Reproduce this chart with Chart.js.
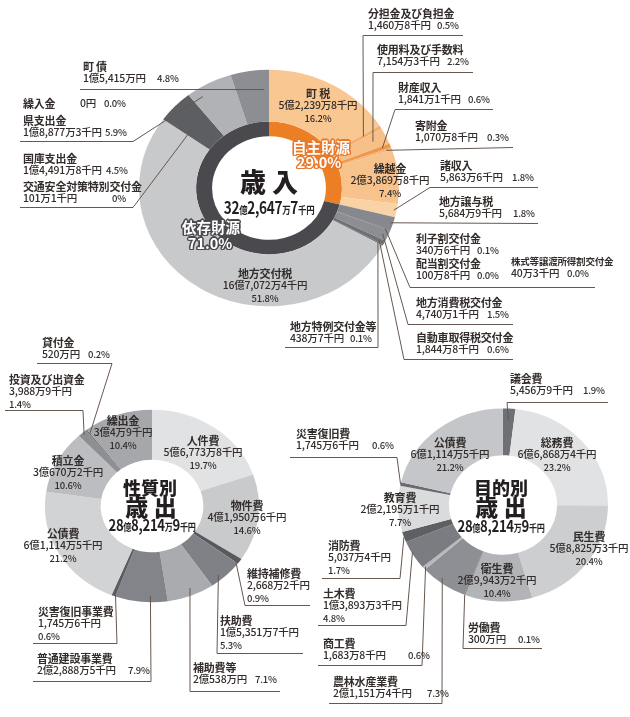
<!DOCTYPE html>
<html lang="ja">
<head>
<meta charset="utf-8">
<title>歳入・歳出</title>
<script src="https://cdn.jsdelivr.net/npm/chart.js@4.4.1/dist/chart.umd.min.js"></script>
<style>
  html, body { margin: 0; padding: 0; background: #fff; }
  #page { position: relative; width: 630px; height: 717px; overflow: hidden;
          font-family: "Noto Sans CJK JP", "Noto Sans", sans-serif; color: #322d2b; }
  #page canvas { position: absolute; left: 0; top: 0; }
  .lb { position: absolute; font-size: 10.5px; line-height: 12.5px; white-space: nowrap; letter-spacing: -0.2px; }
  .lb .ln { position: relative; height: 12.5px; }
  .lb .nm { font-weight: 700; font-size: 11px; }
  .lb .am { font-weight: 500; }
  .lb .pc { position: absolute; top: 0; font-size: 9.5px; font-weight: 500; }
  .lb .ln > .pc3 { font-size: 9.5px; font-weight: 500; }
  .lb.mid { transform: translateX(-50%); text-align: center; }
  .lb.small .nm { font-size: 9.5px; }
  .ct { position: absolute; text-align: center; white-space: nowrap; color: #231f20;
        font-weight: 900; line-height: 1; }
  .ct small { font-size: 0.62em; font-weight: 700; }
  .ol { position: absolute; transform: translate(-50%, -50%); white-space: nowrap; color: #fff;
        font-weight: 700; font-size: 14.5px; line-height: 1; }
</style>
</head>
<body>
<div id="page">
  <canvas id="revChart" width="630" height="717"></canvas>
  <canvas id="natChart" width="630" height="717"></canvas>
  <canvas id="fnChart" width="630" height="717"></canvas>
</div>
<script>
// ---- 歳入 (千円) ----
const revLabels = ['町 税', '分担金及び負担金', '使用料及び手数料', '財産収入', '寄附金', '繰越金', '諸収入',
  '地方譲与税', '利子割交付金', '配当割交付金', '株式等譲渡所得割交付金', '地方消費税交付金', '自動車取得税交付金',
  '地方特例交付金等', '地方交付税', '交通安全対策特別交付金', '国庫支出金', '県支出金', '繰入金', '町 債'];
const revValues = [522398, 14608, 71543, 18411, 10708, 238698, 58636,
  56849, 3406, 1008, 403, 47401, 18448, 4387, 1670724, 1011, 144918, 188773, 0, 154150];
const revPct = ['16.2%', '0.5%', '2.2%', '0.6%', '0.3%', '7.4%', '1.8%',
  '1.8%', '0.1%', '0.0%', '0.0%', '1.5%', '0.6%', '0.1%', '51.8%', '0%', '4.5%', '5.9%', '0.0%', '4.8%'];
const revColors = ['#f8c792', '#f3ad6a', '#f7c089', '#ef9847', '#f6b67a', '#f7c28c', '#f9d2a6',
  '#86888d', '#66676b', '#55565a', '#77787c', '#8c8e92', '#707176', '#5e5f63', '#c8c9cb',
  '#8a8b8f', '#5d5e62', '#b0b2b6', '#999a9e', '#8c8e93'];
const revTotal = 3226477;

// 自主財源 / 依存財源
const srcLabels = ['自主財源', '依存財源'];
const srcValues = [29.0, 71.0];
const srcColors = ['#ec7f26', '#4a494e'];

// ---- 性質別歳出 (千円) ----
const natLabels = ['人件費', '物件費', '維持補修費', '扶助費', '補助費等', '普通建設事業費', '災害復旧事業費',
  '公債費', '積立金', '投資及び出資金', '貸付金', '繰出金'];
const natValues = [567738, 419506, 26682, 153517, 205380, 228885, 17456, 611145, 306702, 39889, 5200, 300049];
const natPct = ['19.7%', '14.6%', '0.9%', '5.3%', '7.1%', '7.9%', '0.6%', '21.2%', '10.6%', '1.4%', '0.2%', '10.4%'];
const natColors = ['#e1e2e3', '#c9cacc', '#58595d', '#808186', '#a9abaf', '#838489', '#5c5d61',
  '#d2d3d5', '#bcbdc0', '#8e8f93', '#66676b', '#a6a7ab'];

// ---- 目的別歳出 (千円) ----
const fnLabels = ['議会費', '総務費', '民生費', '衛生費', '労働費', '農林水産業費', '商工費', '土木費',
  '消防費', '教育費', '災害復旧費', '公債費'];
const fnValues = [54569, 668684, 588253, 299432, 3000, 211514, 16838, 138933, 50374, 221951, 17456, 611145];
const fnPct = ['1.9%', '23.2%', '20.4%', '10.4%', '0.1%', '7.3%', '0.6%', '4.8%', '1.7%', '7.7%', '0.6%', '21.2%'];
const fnColors = ['#6f7075', '#e1e2e3', '#cdced0', '#b3b4b7', '#55565a', '#8e8f94', '#b8b9bc', '#7b7c81',
  '#5e5f63', '#dadbdd', '#6a6b6f', '#c5c6c9'];
const expTotal = 2882149;

const W = 630, H = 717;
const page = document.getElementById('page');

// 千円 -> "1億5,415万8千円"
function yen(v, small) {
  if (v === 0) return '0円';
  const oku = Math.floor(v / 100000), man = Math.floor((v % 100000) / 10), sen = v % 10;
  const u = s => small ? '<small>' + s + '</small>' : s;
  let s = '';
  if (oku) s += oku + u('億');
  if (man) s += man.toLocaleString('en-US') + u('万');
  if (sen) s += sen + u('千円'); else s += u('円');
  return s;
}

// 楕円に見せる（縦方向を少し潰す）
const squash = {
  id: 'squash',
  beforeDatasetsDraw(chart, args, opts) {
    const arc = chart.getDatasetMeta(0).data[0];
    const ctx = chart.ctx;
    ctx.save();
    ctx.translate(arc.x, arc.y);
    ctx.scale(1, opts.sy);
    ctx.translate(-arc.x, -arc.y);
  },
  afterDatasetsDraw(chart) {
    chart.ctx.restore();
  }
};

// 引き出し線
function makeLeaders(specs) {
  return {
    id: 'leaders',
    afterDraw(chart) {
      const ctx = chart.ctx;
      const sy = chart.options.plugins.squash.sy;
      const meta = chart.getDatasetMeta(0);
      ctx.save();
      ctx.strokeStyle = '#66574f';
      ctx.lineWidth = 1;
      specs.filter(s => s.line).forEach(s => {
        const arc = meta.data[s.i];
        const p = arc.getProps(['x', 'y', 'startAngle', 'endAngle', 'innerRadius', 'outerRadius'], true);
        const f = s.line.f ?? 0.5;
        const a = p.startAngle + (p.endAngle - p.startAngle) * f;
        const r = p.innerRadius + (p.outerRadius - p.innerRadius) * s.line.t;
        const ax = p.x + Math.cos(a) * r, ay = p.y + Math.sin(a) * r * sy;
        ctx.beginPath();
        s.line.p.forEach((pt, k) => k ? ctx.lineTo(pt[0], pt[1] + 0.5) : ctx.moveTo(pt[0], pt[1] + 0.5));
        ctx.lineTo(ax, ay);
        ctx.stroke();
      });
      ctx.restore();
    }
  };
}

function ring(id, geo, datasets, specs) {
  return new Chart(document.getElementById(id), {
    type: 'doughnut',
    data: { datasets },
    options: {
      responsive: false,
      animation: false,
      events: [],
      radius: geo.r,
      cutout: geo.cut,
      layout: { padding: { left: geo.cx - geo.r, right: W - geo.cx - geo.r, top: geo.cy - geo.r, bottom: H - geo.cy - geo.r } },
      plugins: { legend: { display: false }, tooltip: { enabled: false }, squash: { sy: geo.sy } }
    },
    plugins: [squash, makeLeaders(specs)]
  });
}

function addLabels(specs, names, values, pcts) {
  specs.forEach(s => {
    const d = document.createElement('div');
    d.className = 'lb' + (s.mid ? ' mid' : '') + (s.small ? ' small' : '');
    d.style.left = s.x + 'px';
    d.style.top = (s.y - 6.25) + 'px';
    const am = yen(values[s.i]);
    let h;
    if (s.inline) {
      h = '<div class="ln"><span class="nm">' + names[s.i] + '</span>' +
        '<span class="pc am" style="left:' + (s.inline - s.x) + 'px;font-size:10.5px">' + am + '</span>' +
        '<span class="pc" style="left:' + (s.px - s.x) + 'px">' + pcts[s.i] + '</span></div>';
    } else {
      h = '<div class="ln nm">' + names[s.i] + '</div>';
      if (s.px) {
        h += '<div class="ln"><span class="am">' + am + '</span><span class="pc" style="left:' + (s.px - s.x) + 'px">' + pcts[s.i] + '</span></div>';
      } else {
        h += '<div class="ln am">' + am + '</div><div class="ln"><span class="pc3">' + pcts[s.i] + '</span></div>';
      }
    }
    d.innerHTML = h;
    page.appendChild(d);
  });
}

// 中央の文字: sx で横方向を詰める
function addText(cls, x, y, html, size, sx, extra) {
  const d = document.createElement('div');
  d.className = cls;
  d.style.left = x + 'px';
  d.style.top = y + 'px';
  if (size) d.style.fontSize = size + 'px';
  if (cls === 'ct') d.style.transform = 'translate(-50%, -50%) scaleX(' + (sx || 1) + ')';
  if (extra) d.style.cssText += extra;
  d.innerHTML = html;
  page.appendChild(d);
}

// ---- ラベル配置 ----
const revSpecs = [
  { i: 0, x: 318, y: 93, mid: 1 },
  { i: 5, x: 390, y: 168, mid: 1 },
  { i: 14, x: 265, y: 273, mid: 1 },
  { i: 1, x: 368, y: 13, px: 437, line: { p: [[463, 35], [363, 35]], t: 0.65 } },
  { i: 2, x: 377, y: 49, px: 447, line: { p: [[473, 72], [373, 72]], t: 0.75 } },
  { i: 3, x: 398, y: 87, px: 468, line: { p: [[493, 109], [395, 109]], t: 0.85 } },
  { i: 4, x: 415, y: 125, px: 487, line: { p: [[513, 147]], t: 0.9 } },
  { i: 6, x: 440, y: 165, px: 512, line: { p: [[538, 187], [430, 187]], t: 0.95 } },
  { i: 7, x: 439, y: 201, px: 513, line: { p: [[538, 223]], t: 0.95 } },
  { i: 8, x: 416, y: 238, px: 477, line: { p: [[595, 287], [410, 287]], t: 0.9 } },
  { i: 9, x: 416, y: 263, px: 477 },
  { i: 10, x: 511, y: 261, px: 567, small: 1 },
  { i: 11, x: 416, y: 302, px: 487, line: { p: [[513, 324], [408, 324]], t: 0.9 } },
  { i: 12, x: 416, y: 337, px: 487, line: { p: [[513, 359], [404, 359]], t: 0.9 } },
  { i: 13, x: 290, y: 326, px: 350, line: { p: [[285, 347], [378, 347]], t: 0.9 } },
  { i: 19, x: 83, y: 66, px: 157, line: { p: [[80, 89]], f: 0.85, t: 0.62 } },
  { i: 18, x: 23, y: 103, inline: 80, px: 104 },
  { i: 17, x: 23, y: 120, px: 105, line: { p: [[20, 141], [133, 141]], f: 0.23, t: 0.83 } },
  { i: 16, x: 23, y: 158, px: 106, line: { p: [[20, 207], [133, 207]], t: 0.5 } },
  { i: 15, x: 23, y: 186, px: 112 }
];

const natSpecs = [
  { i: 0, x: 203, y: 440, mid: 1 },
  { i: 1, x: 247, y: 505, mid: 1 },
  { i: 7, x: 63, y: 533, mid: 1 },
  { i: 8, x: 68, y: 460, mid: 1 },
  { i: 11, x: 123, y: 420, mid: 1 },
  { i: 10, x: 42, y: 342, px: 88, line: { p: [[37, 363], [112, 363]], t: 0.9 } },
  { i: 9, x: 9, y: 379, line: { p: [[5, 410], [83, 410]], t: 0.95 } },
  { i: 2, x: 247, y: 573, line: { p: [[310, 605], [245, 605]], t: 0.9 } },
  { i: 3, x: 220, y: 620, line: { p: [[303, 653], [217, 653]], f: 0.65, t: 0.9 } },
  { i: 4, x: 193, y: 667, px: 255, line: { p: [[280, 691], [190, 691]], f: 0.45, t: 0.85 } },
  { i: 5, x: 37, y: 658, px: 128, line: { p: [[33, 681], [151, 681]], f: 0.33, t: 0.88 } },
  { i: 6, x: 38, y: 611, line: { p: [[33, 643], [117, 643]], t: 0.9 } }
];

const fnSpecs = [
  { i: 11, x: 450, y: 442, mid: 1 },
  { i: 1, x: 557, y: 442, mid: 1 },
  { i: 9, x: 400, y: 497, mid: 1 },
  { i: 2, x: 589, y: 536, mid: 1 },
  { i: 3, x: 497, y: 568, mid: 1 },
  { i: 0, x: 510, y: 378, px: 583, line: { p: [[608, 402], [507, 402]], t: 0.75 } },
  { i: 10, x: 296, y: 433, px: 372, line: { p: [[290, 457], [397, 457]], t: 1 } },
  { i: 8, x: 328, y: 545, line: { p: [[322, 578], [400, 578]], t: 1 } },
  { i: 7, x: 323, y: 593, line: { p: [[318, 625], [406, 625]], f: 0.6, t: 0.98 } },
  { i: 6, x: 323, y: 643, px: 408, line: { p: [[318, 665], [422, 665]], t: 0.95 } },
  { i: 5, x: 333, y: 681, px: 427, line: { p: [[329, 703], [442, 703]], f: 0.6, t: 0.9 } },
  { i: 4, x: 468, y: 627, px: 518, line: { p: [[542, 648], [463, 648]], t: 1 } }
];

// ---- グラフ ----
ring('revChart', { cx: 269, cy: 188, r: 130, cut: '43.8%', sy: 0.91 }, [
  { data: revValues, backgroundColor: revColors, borderWidth: 0, weight: 57 },
  { data: srcValues, backgroundColor: srcColors, borderWidth: 0, weight: 16 }
], revSpecs);

ring('natChart', { cx: 152, cy: 506, r: 107, cut: '48%', sy: 0.9 }, [
  { data: natValues, backgroundColor: natColors, borderWidth: 0 }
], natSpecs);

ring('fnChart', { cx: 503, cy: 505, r: 105, cut: '51.5%', sy: 0.92 }, [
  { data: fnValues, backgroundColor: fnColors, borderWidth: 0 }
], fnSpecs);

addLabels(revSpecs, revLabels, revValues, revPct);
addLabels(natSpecs, natLabels, natValues, natPct);
addLabels(fnSpecs, fnLabels, fnValues, fnPct);

// 中央の見出し
addText('ct', 269, 181, '歳&nbsp;入', 26, 1);
addText('ct', 269, 207, yen(revTotal, true), 17, 0.8, 'letter-spacing:-0.4px;font-weight:700');
addText('ct', 150, 487, '性質別', 18, 1);
addText('ct', 151, 506, '歳&nbsp;出', 23, 1);
addText('ct', 152, 524, yen(expTotal, true), 16, 0.82, 'letter-spacing:-0.4px;font-weight:700');
addText('ct', 501, 487, '目的別', 18, 1);
addText('ct', 501, 506, '歳&nbsp;出', 23, 1);
addText('ct', 501, 525, yen(expTotal, true), 16, 0.82, 'letter-spacing:-0.4px;font-weight:700');

// 自主財源 / 依存財源（縁取り文字）
const edge = c => [[-1.5, 0], [1.5, 0], [0, -1.5], [0, 1.5], [-1.2, -1.2], [1.2, -1.2], [-1.2, 1.2], [1.2, 1.2]]
  .map(o => o[0] + 'px ' + o[1] + 'px 0 ' + c).join(',');
addText('ol', 321, 147, srcLabels[0], 0, 0, 'text-shadow:' + edge('#e8792b'));
addText('ol', 319, 162, srcValues[0].toFixed(1) + '%', 0, 0, 'text-shadow:' + edge('#e8792b'));
addText('ol', 211, 227, srcLabels[1], 0, 0, 'text-shadow:' + edge('#4a494e'));
addText('ol', 210, 243, srcValues[1].toFixed(1) + '%', 0, 0, 'text-shadow:' + edge('#4a494e'));
</script>
</body>
</html>
